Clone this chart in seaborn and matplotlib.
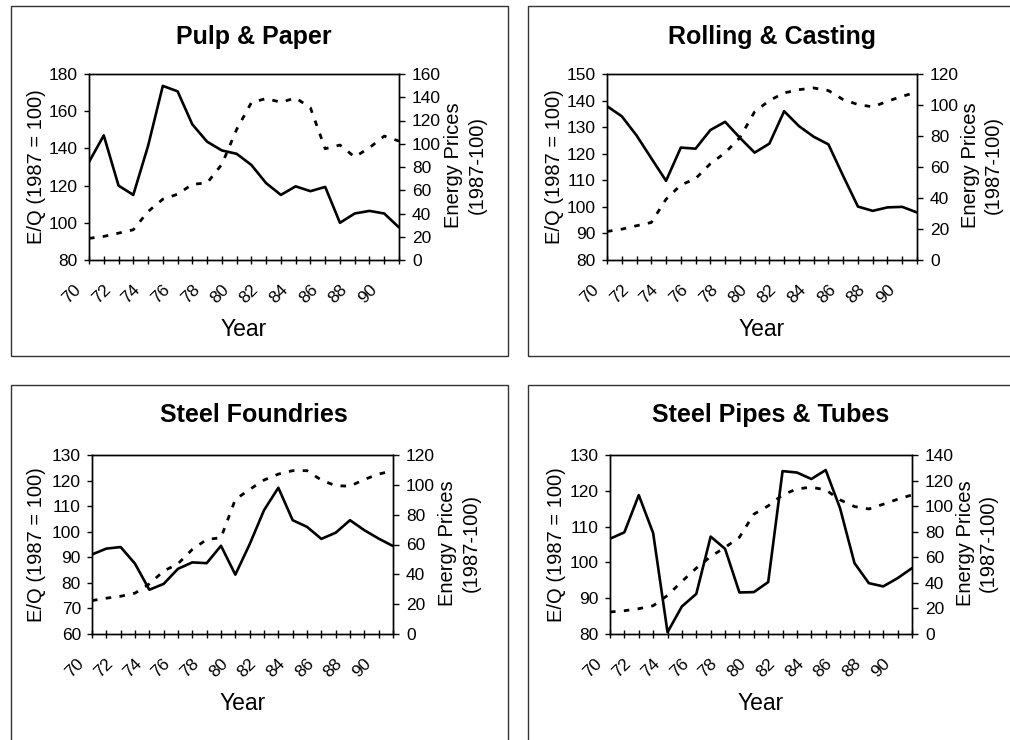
import matplotlib
matplotlib.use("Agg")
import matplotlib.pyplot as plt
import matplotlib.transforms as mtransforms
from matplotlib.patches import Rectangle
import seaborn as sns
import numpy as np

# ---------------- data ----------------
years = list(range(70, 92))
year_labels = [str(y) if y % 2 == 0 else "" for y in years]

titles = ["Pulp & Paper", "Rolling & Casting", "Steel Foundries", "Steel Pipes & Tubes"]

pulp_eq = [132.7, 147.0, 120.0, 115.0, 141.3, 173.6, 170.7, 152.9, 143.6, 138.9, 137.1,
           131.1, 121.3, 115.0, 119.6, 117.0, 119.3, 100.0, 105.0, 106.4, 105.0, 97.5]
pulp_price = [18.6, 20.3, 23.1, 26.0, 41.7, 52.3, 56.6, 65.1, 66.3, 82.3, 112.3,
              135.4, 138.9, 135.7, 139.4, 130.9, 95.7, 98.9, 88.6, 96.6, 106.6, 102.3]

rolling_eq = [137.9, 134.1, 126.9, 118.3, 109.8, 122.3, 121.9, 128.9, 132.0, 126.0, 120.4,
              123.8, 136.0, 130.4, 126.4, 123.5, 111.6, 100.1, 98.5, 99.8, 100.0, 97.9]
rolling_price = [18.4, 19.9, 22.1, 24.2, 39.2, 48.4, 52.5, 62.1, 69.2, 78.9, 95.6,
                 102.9, 107.8, 109.9, 111.0, 109.3, 103.5, 100.3, 98.8, 102.4, 105.6, 108.4]

foundries_eq = [91.1, 93.4, 94.0, 87.5, 77.3, 79.6, 85.5, 88.0, 87.7, 94.5, 83.2,
                95.1, 108.4, 117.2, 104.5, 101.9, 97.2, 99.6, 104.5, 100.6, 97.3, 94.4]
foundries_price = [22.4, 24.0, 25.3, 27.4, 33.6, 42.2, 47.1, 56.7, 63.3, 64.6, 90.2,
                   96.9, 103.2, 107.2, 109.5, 109.5, 103.2, 99.4, 99.1, 103.6, 107.2, 109.5]

pipes_eq = [106.6, 108.4, 118.8, 108.2, 80.5, 87.7, 91.2, 107.2, 103.8, 91.6, 91.7,
            94.5, 125.5, 125.1, 123.3, 125.8, 115.1, 99.8, 94.2, 93.3, 95.6, 98.4]
pipes_price = [17.2, 18.2, 19.8, 22.1, 30.2, 41.1, 51.5, 60.6, 67.7, 75.7, 93.7,
               100.2, 108.8, 113.5, 114.8, 112.7, 104.9, 99.7, 97.8, 101.5, 105.4, 108.8]

eq_series = [pulp_eq, rolling_eq, foundries_eq, pipes_eq]
price_series = [pulp_price, rolling_price, foundries_price, pipes_price]

left_ticks = [np.arange(80, 181, 20), np.arange(80, 151, 10),
              np.arange(60, 131, 10), np.arange(80, 131, 10)]
right_ticks = [np.arange(0, 161, 20), np.arange(0, 121, 20),
               np.arange(0, 121, 20), np.arange(0, 141, 20)]

left_label = "E/Q (1987 = 100)"
right_label = "Energy Prices\n(1987-100)"
x_label = "Year"

# ---------------- style ----------------
sns.set_style("white")
plt.rcParams["font.family"] = ["Liberation Sans", "DejaVu Sans"]
plt.rcParams["text.color"] = "black"
plt.rcParams["axes.labelcolor"] = "black"
plt.rcParams["xtick.color"] = "black"
plt.rcParams["ytick.color"] = "black"

W, H, DPI = 1010, 740, 100
fig = plt.figure(figsize=(W / DPI, H / DPI), dpi=DPI)
fig.patch.set_facecolor("white")

# axes boxes in pixels: left, top, right, bottom
boxes = [(89, 74, 399, 260), (607, 74, 917, 260),
         (92, 455, 393, 634), (610, 455, 912, 634)]
frames = [(11, 6, 508, 356), (528, 6, 1020, 356),
          (11, 385, 508, 750), (528, 385, 1020, 750)]
title_pos = [(254, 37), (772, 37), (254, 415), (771, 415)]
ylab_left_px = [37, 555, 37, 557]
ylab_right_px = [465, 982, 459, 977]

for fr in frames:
    l, t, r, b = fr
    fig.add_artist(Rectangle((l / W, 1 - b / H), (r - l) / W, (b - t) / H,
                             transform=fig.transFigure, fill=False,
                             edgecolor="#333333", linewidth=1.0))

for i in range(4):
    l, t, r, b = boxes[i]
    ax = fig.add_axes([l / W, 1 - b / H, (r - l) / W, (b - t) / H])
    ax2 = ax.twinx()

    sns.lineplot(x=years, y=eq_series[i], ax=ax, color="black", linewidth=1.9)
    sns.lineplot(x=years, y=price_series[i], ax=ax2, color="black", linewidth=2.0)
    ax2.lines[0].set_linestyle((0, (2.0, 3.0)))
    ax2.lines[0].set_dash_capstyle("butt")

    ax.set_xlim(70, 91)
    lt = left_ticks[i]
    rt = right_ticks[i]
    ax.set_ylim(lt[0], lt[-1])
    ax.set_yticks(lt)
    ax2.set_ylim(rt[0], rt[-1])
    ax2.set_yticks(rt)

    ax.set_xticks(years)
    ax.set_xticklabels(year_labels)

    for a in (ax, ax2):
        for s in a.spines.values():
            s.set_color("black")
            s.set_linewidth(1.0)
            s.set_visible(True)

    ax.tick_params(axis="y", which="both", left=True, right=False, direction="out",
                   length=3.5, width=1.0, pad=4.5, labelsize=12.5, colors="black")
    ax2.tick_params(axis="y", which="both", right=True, left=False, direction="out",
                    length=4.3, width=1.0, pad=5.0, labelsize=12.5, colors="black")
    ax.tick_params(axis="x", which="both", bottom=True, direction="inout",
                   length=5.8, width=1.0, pad=16.5, labelsize=12.5, colors="black")

    offset = mtransforms.ScaledTranslation(-10.0 / DPI, 0, fig.dpi_scale_trans)
    for lab in ax.get_xticklabels():
        lab.set_rotation(45)
        lab.set_ha("right")
        lab.set_va("center")
        lab.set_rotation_mode("anchor")
        lab.set_transform(lab.get_transform() + offset)

    ax.set_xlabel(x_label, fontsize=16.5, color="black")
    ax.xaxis.set_label_coords(0.5, -70 / (b - t), transform=ax.transAxes)
    ax.xaxis.label.set_va("center")

    ax.set_ylabel(left_label, fontsize=14.5, color="black")
    ax.yaxis.set_label_coords((ylab_left_px[i] - l) / (r - l), 0.5)
    ax.yaxis.label.set_va("center")

    ax2.set_ylabel(right_label, fontsize=14.5, linespacing=1.3, color="black")
    ax2.yaxis.set_label_coords((ylab_right_px[i] - l) / (r - l), 0.51)
    ax2.yaxis.label.set_va("center")
    ax2.yaxis.label.set_ha("center")

    ax.grid(False)
    ax2.grid(False)

    tx, ty = title_pos[i]
    fig.text(tx / W, 1 - ty / H, titles[i], fontsize=18, fontweight="bold",
             ha="center", va="center", color="black")

fig.savefig("out.png", dpi=DPI, facecolor="white")
